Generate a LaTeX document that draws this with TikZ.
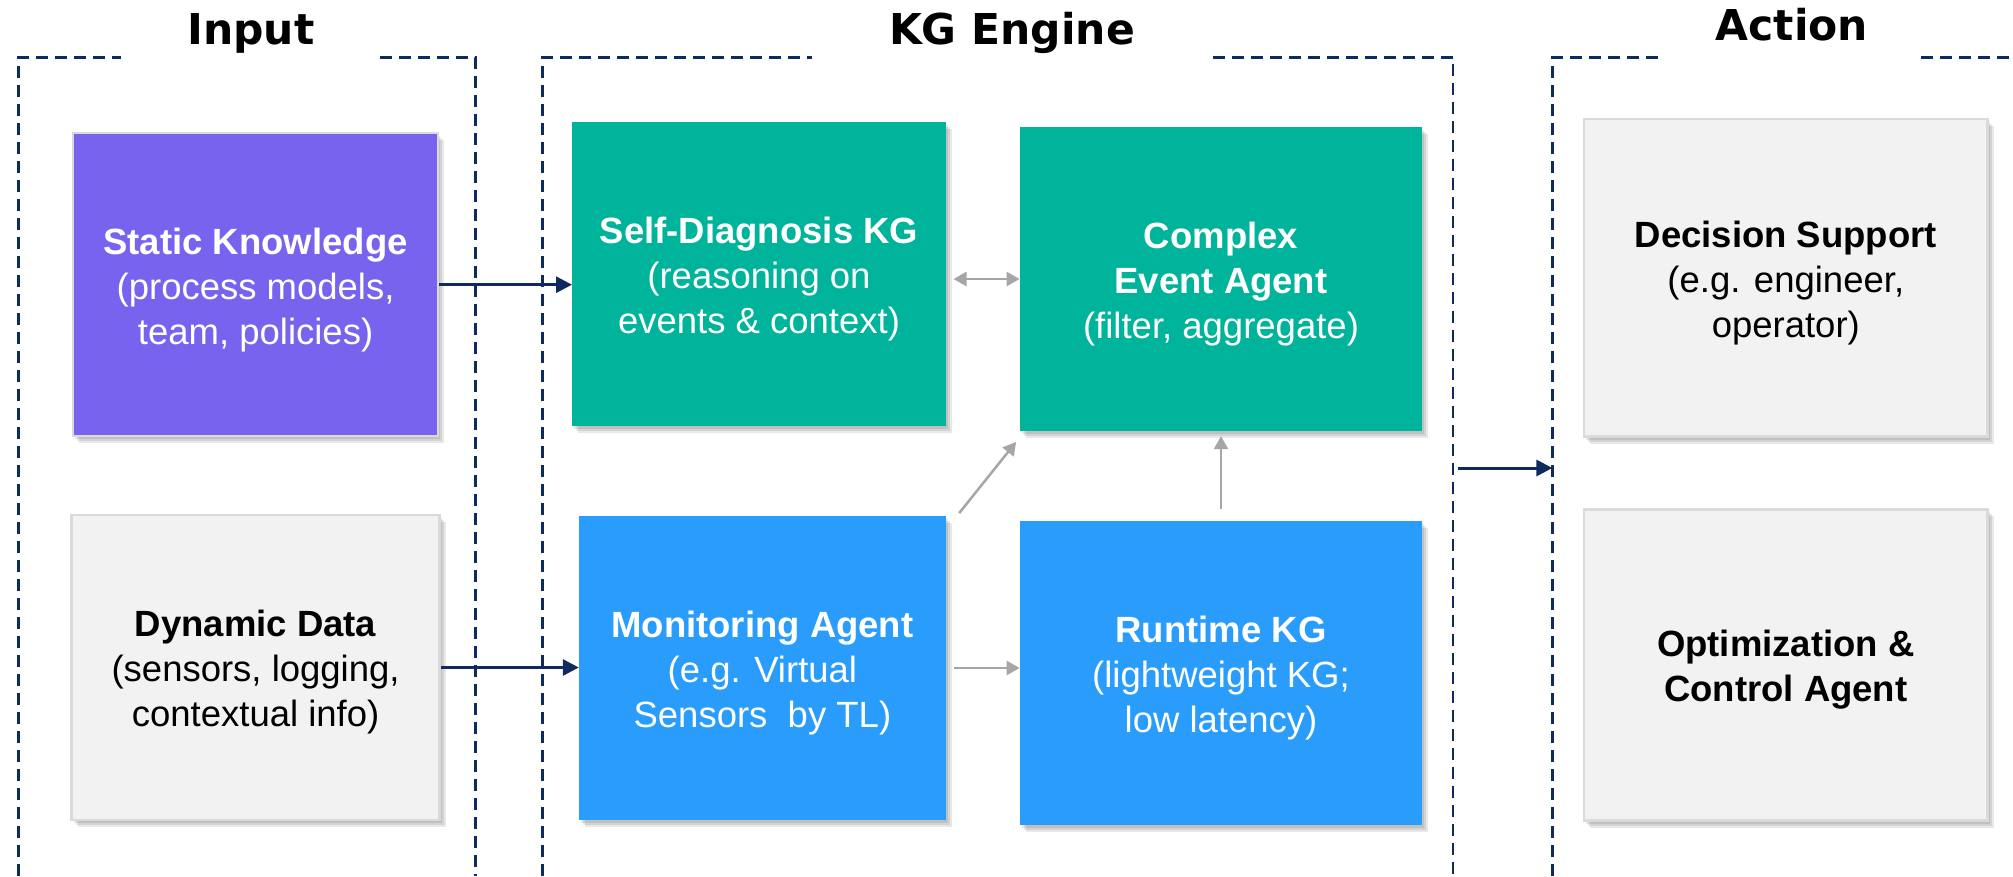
\documentclass[tikz,border=0pt]{standalone}
\usepackage{fontspec}
\setmainfont{Liberation Sans}
\newfontfamily\titlefont{DejaVu Sans}
\usetikzlibrary{arrows.meta,shadows,calc}

\definecolor{navy}{HTML}{0E2A5F}
\definecolor{kgpurple}{HTML}{7763EE}
\definecolor{kgteal}{HTML}{00B39B}
\definecolor{kgblue}{HTML}{299CFC}
\definecolor{panelgray}{HTML}{F2F2F2}
\definecolor{edgegray}{HTML}{DADADA}
\definecolor{linkgray}{HTML}{A6A6A6}

% taller first line, so the text block sits a little below the box centre
\newcommand\headline[1]{\rule{0pt}{36.5pt}\textbf{#1}}

\tikzset{
  softshadow/.style={
    general shadow={fill=black, opacity=0.09, shadow xshift=2pt, shadow yshift=-3pt},
    general shadow={fill=black, opacity=0.09, shadow xshift=4pt, shadow yshift=-5pt},
    general shadow={fill=black, opacity=0.09, shadow xshift=6pt, shadow yshift=-7pt}},
  block/.style={rectangle, inner sep=0pt, align=center, softshadow,
    font=\fontsize{36.5}{45}\selectfont},
  colorblock/.style={block, fill=#1, text=white},
  grayblock/.style={block, fill=panelgray, draw=edgegray, line width=2.5pt, text=black},
  frame/.style={draw=navy, line width=2.8pt, dash pattern=on 12pt off 7pt},
  sectiontitle/.style={anchor=base, inner sep=0pt,
    font=\titlefont\bfseries\fontsize{42.5}{50}\selectfont},
  navyarrow/.style={draw=navy, line width=3pt, -{Triangle[length=16pt,width=16pt]}},
  grayarrow/.style={draw=linkgray, line width=2.5pt, -{Triangle[length=13pt,width=14pt]}},
}

\begin{document}
\begin{tikzpicture}[x=1pt, y=-1pt]
\useasboundingbox (0,0) rectangle (2013,876);

% section frames, open at the top for their titles
\draw[frame] (18.7,876) -- (18.7,57.7) -- (120.5,57.7);
\draw[frame] (379.5,57.7) -- (475.4,57.7) -- (475.4,876);
\draw[frame] (542.4,876) -- (542.4,57.7) -- (811.5,57.7);
\draw[frame] (1212.7,57.7) -- (1453,57.7) -- (1453,876);
\draw[frame] (1552.4,876) -- (1552.4,57.7) -- (1663.8,57.7);
\draw[frame] (1921,57.7) -- (2013,57.7);

\node[sectiontitle] (tin)  at (251,44)    {Input};
\node[sectiontitle] (tkg)  at (1012,44)   {KG Engine};
\node[sectiontitle] (tact) at (1792,40.5) {Action};

% input
\node[colorblock=kgpurple, draw=edgegray, line width=2pt,
      minimum width=365.6pt, minimum height=302.7pt] (static) at (255.6,284.7)
  {\headline{Static Knowledge}\\(process models,\\team, policies)};
\node[grayblock, minimum width=368pt, minimum height=305pt] (dyn) at (255.6,667.5)
  {\headline{Dynamic Data}\\(sensors, logging,\\contextual info)};

% KG engine
\node[colorblock=kgteal, minimum width=373.6pt, minimum height=303.7pt] (sd) at (759,274.2)
  {\headline{Self-Diagnosis KG}\\(reasoning on\\events \& context)};
\node[colorblock=kgteal, minimum width=402.3pt, minimum height=304pt] (cea) at (1221,279)
  {\headline{Complex}\\\textbf{Event Agent}\\(filter, aggregate)};
\node[colorblock=kgblue, minimum width=366.8pt, minimum height=303.4pt] (mon) at (762.4,668)
  {\headline{Monitoring Agent}\\(e.g. Virtual\\Sensors~ by TL)};
\node[colorblock=kgblue, minimum width=402.3pt, minimum height=304pt] (rt) at (1221,673)
  {\headline{Runtime KG}\\(lightweight KG;\\low latency)};

% action
\node[grayblock, minimum width=403.7pt, minimum height=317.7pt] (dec) at (1785.8,277.8)
  {\headline{Decision Support}\\(e.g. engineer,\\operator)};
\node[grayblock, minimum width=403.7pt, minimum height=311.4pt] (opt) at (1785.8,665)
  {\headline{Optimization \&}\\\textbf{Control Agent}};

% connectors
\draw[navyarrow] (static.east) -- (static.east -| sd.west);
\draw[navyarrow] (dyn.east) -- (dyn.east -| mon.west);
\draw[grayarrow, {Triangle[length=13pt,width=14pt]}-{Triangle[length=13pt,width=14pt]},
      shorten <=7.5pt] (cea.west -| sd.east) -- (cea.west);
\draw[grayarrow, shorten <=7.5pt] (mon.east) -- (mon.east -| rt.west);
\draw[grayarrow, shorten <=12pt, shorten >=5pt] (rt.north) -- (cea.south);
\draw[grayarrow] ($(mon.north east)+(13.2,-3)$) -- ($(cea.south west)+(-3.5,10.7)$);

\coordinate (kgedge)  at (1453,468);
\coordinate (actedge) at (1552.4,468);
\draw[navyarrow, shorten <=5pt] (kgedge) -- (actedge);
\end{tikzpicture}
\end{document}
